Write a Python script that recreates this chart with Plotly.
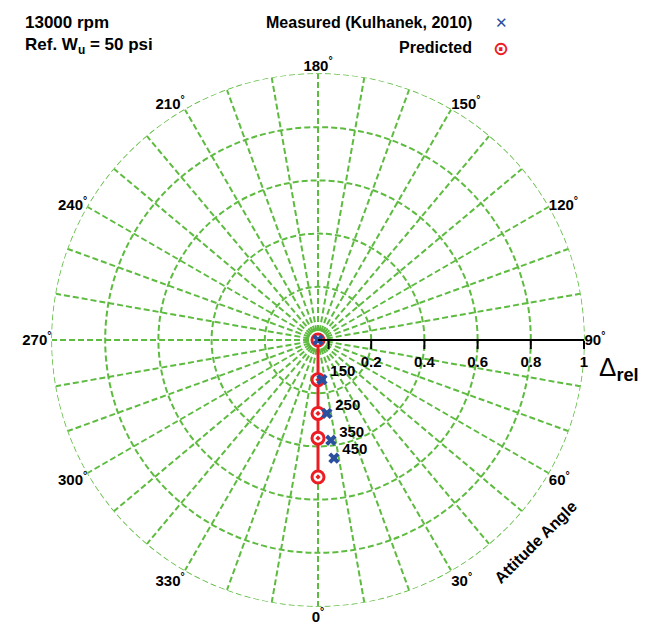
import plotly.graph_objects as go

# ---- data ----
meas_r = [0.0, 0.150, 0.278, 0.380, 0.448]
meas_theta = [0.0, 5.7, 6.9, 7.3, 7.7]
meas_labels = ["", "150", "250", "350", "450"]

pred_r = [0.0, 0.149, 0.276, 0.369, 0.515]
pred_theta = [0.0, 0.0, 0.0, 0.0, 0.0]

radial_ticks = [0.04, 0.2, 0.4, 0.6, 0.8, 1.0]
radial_ticktext = ["", "0.2", "0.4", "0.6", "0.8", "1"]
ang_ticks = list(range(0, 360, 10))
ang_ticktext = [f"{a}<sup>°</sup>" if a % 30 == 0 else "" for a in ang_ticks]

FONT = "Liberation Sans, Arial, sans-serif"
GREEN = "#5dbb3f"
BLUE = "#2b4f9f"
RED = "#ec1c24"

W, H = 649, 625
CX, CY, RAD = 318, 340, 266  # polar placement in pixels

fig = go.Figure()
fig.add_trace(go.Scatterpolar(
    r=pred_r, theta=pred_theta, mode="lines+markers", name="Predicted",
    line=dict(color=RED, width=3),
    marker=dict(symbol="circle-dot", size=12, color="white",
                line=dict(color=RED, width=3)),
    showlegend=False, hoverinfo="skip"))
fig.add_trace(go.Scatterpolar(
    r=meas_r, theta=meas_theta, mode="markers", name="Measured (Kulhanek, 2010)",
    marker=dict(symbol="x", size=10, color=BLUE, line=dict(width=0)),
    showlegend=False, hoverinfo="skip"))
fig.add_trace(go.Scatterpolar(
    r=meas_r, theta=meas_theta, mode="text",
    text=["  " + t if t else "" for t in meas_labels], textposition="top right",
    textfont=dict(family=FONT, size=15, color="black", weight="bold"),
    showlegend=False, hoverinfo="skip"))

cx0, cx1 = (CX - RAD) / W, (CX + RAD) / W
cy0, cy1 = 1 - (CY + RAD) / H, 1 - (CY - RAD) / H

fig.update_layout(
    width=W, height=H,
    margin=dict(l=0, r=0, t=0, b=0),
    paper_bgcolor="white", plot_bgcolor="white",
    font=dict(family=FONT, color="black"),
    polar=dict(
        domain=dict(x=[cx0, cx1], y=[cy0, cy1]),
        bgcolor="white",
        angularaxis=dict(
            rotation=270, direction="counterclockwise",
            tickmode="array", tickvals=ang_ticks, ticktext=ang_ticktext,
            showgrid=True, gridcolor=GREEN, griddash="6px,3px", gridwidth=1.5,
            showline=False, ticks="",
            tickfont=dict(family=FONT, size=15, color="black", weight="bold"),
        ),
        radialaxis=dict(
            range=[0, 1.0], angle=0, side="clockwise",
            tickmode="array", tickvals=radial_ticks, ticktext=radial_ticktext,
            showgrid=True, gridcolor=GREEN, griddash="6px,3px", gridwidth=1.5,
            showline=True, linecolor="black", linewidth=2,
            ticks="outside", ticklen=8, tickwidth=2, tickcolor="black",
            tickfont=dict(family=FONT, size=15, color="black", weight="bold"),
        ),
    ),
    shapes=[dict(type="circle", xref="paper", yref="paper", layer="below",
                 x0=cx0, x1=cx1, y0=cy0, y1=cy1,
                 line=dict(color=GREEN, width=1.5, dash="6px,3px"))],
)

ann = []
ann.append(dict(x=23 / W, y=1 - 22 / H, xref="paper", yref="paper", xanchor="left", yanchor="middle",
                text="<b>13000 rpm</b>", showarrow=False, font=dict(family=FONT, size=17)))
ann.append(dict(x=23 / W, y=1 - 46 / H, xref="paper", yref="paper", xanchor="left", yanchor="middle",
                text="<b>Ref. W<sub>u</sub> = 50 psi</b>", showarrow=False, font=dict(family=FONT, size=17)))
ann.append(dict(x=474 / W, y=1 - 23 / H, xref="paper", yref="paper", xanchor="right", yanchor="middle",
                text="<b>Measured (Kulhanek, 2010)</b>", showarrow=False, font=dict(family=FONT, size=16)))
ann.append(dict(x=474 / W, y=1 - 48 / H, xref="paper", yref="paper", xanchor="right", yanchor="middle",
                text="<b>Predicted</b>", showarrow=False, font=dict(family=FONT, size=16)))
ann.append(dict(x=501 / W, y=1 - 23 / H, xref="paper", yref="paper", xanchor="center", yanchor="middle",
                text="<b>✕</b>", showarrow=False, font=dict(family="DejaVu Sans", size=15, color=BLUE)))
ann.append(dict(x=501 / W, y=1 - 48 / H, xref="paper", yref="paper", xanchor="center", yanchor="middle",
                text="<b>⊙</b>", showarrow=False, font=dict(family="DejaVu Sans", size=19, color=RED)))
ann.append(dict(x=619 / W, y=1 - 368 / H, xref="paper", yref="paper", xanchor="center", yanchor="middle",
                text="Δ<sub><b>rel</b></sub>", showarrow=False, font=dict(family=FONT, size=26)))
ann.append(dict(x=535 / W, y=1 - 542 / H, xref="paper", yref="paper", xanchor="center", yanchor="middle",
                text="<b>Attitude Angle</b>", textangle=-45, showarrow=False, font=dict(family=FONT, size=16)))
fig.update_layout(annotations=ann)

fig.write_html("out.html")
